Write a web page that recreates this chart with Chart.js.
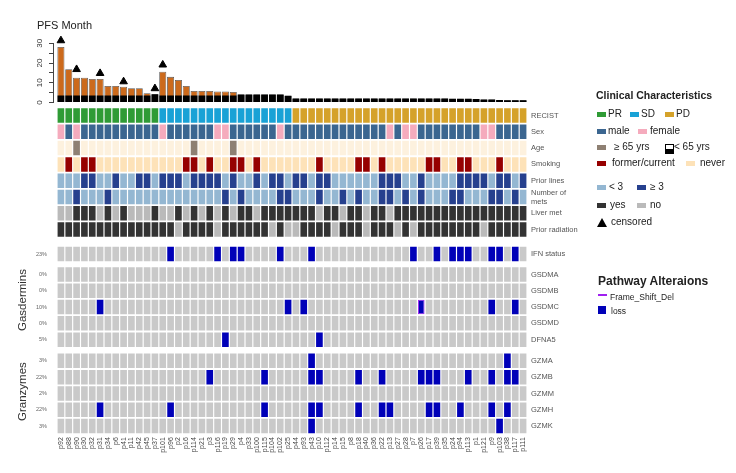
<!DOCTYPE html>
<html>
<head>
<meta charset="utf-8">
<script src="https://cdn.jsdelivr.net/npm/chart.js@4.4.0/dist/chart.umd.min.js"></script>
<style>
body{margin:0;width:736px;height:473px;position:relative;background:#fff;overflow:hidden;font-family:"Liberation Sans",Arial,sans-serif;color:#222}
canvas{position:absolute;left:0;top:0}
.t{position:absolute;white-space:nowrap;line-height:1}
.sw{position:absolute;width:9px;height:5px}
.rot{position:absolute;transform:rotate(-90deg);transform-origin:center;white-space:nowrap;font-size:11.5px;color:#333}
</style>
</head>
<body>
<canvas id="pfs" width="736" height="110"></canvas>
<canvas id="grid" width="736" height="473"></canvas>

<div class="t" style="left:37px;top:20px;font-size:11px">PFS Month</div>
<div class="rot" style="left:-9px;top:294px;width:62px;text-align:center">Gasdermins</div>
<div class="rot" style="left:-7px;top:386px;width:58px;text-align:center">Granzymes</div>

<div id="legend"></div>

<script>
// patients, left to right
const patients = ["p92","p88","p90","p30","p32","p31","p34","p6","p41","p11","p42","p45","p37",
  "p101","p96","p2","p16","p114","p21","p3","p116","p19","p29","p4","p33","p100","p115","p104","p102","p25",
  "p44","p93","p43","p10","p112","p14","p15","p8","p18","p40","p36","p22","p13","p27","p28","p7","p26",
  "p17","p39","p35","p24","p94","p113","p1","p121","p9","p103","p38","p117","p111"];

// PFS months (bar height) and the black base part
const pfsMonths = [28.1,16.9,12.6,12.6,11.9,11.9,8.4,8.4,8.0,7.2,7.2,4.7,4.2,
  15.6,13.0,11.4,8.4,5.8,5.8,5.8,5.6,5.6,5.3,4.1,4.1,4.1,4.1,4.1,4.0,3.4,
  2.0,2.0,2.0,2.0,2.0,2.0,2.0,2.0,2.0,2.0,2.0,2.0,2.0,2.0,2.0,2.0,2.0,2.0,2.0,2.0,
  1.9,1.9,1.9,1.8,1.5,1.5,1.3,1.2,1.1,1.1];
const pfsBase = [3.5,3.5,3.5,3.5,3.5,3.5,3.5,3.5,3.5,3.5,3.5,3.5,4.2,
  3.5,3.5,3.5,3.5,3.5,3.5,3.5,3.5,3.5,3.5,4.1,4.1,4.1,4.1,4.1,4.0,3.4,
  2.0,2.0,2.0,2.0,2.0,2.0,2.0,2.0,2.0,2.0,2.0,2.0,2.0,2.0,2.0,2.0,2.0,2.0,2.0,2.0,
  1.9,1.9,1.9,1.8,1.5,1.5,1.3,1.2,1.1,1.1];
const censored = ["p92","p90","p31","p41","p37","p101"];
const censorMark = [31.4,16.8,14.8,10.6,7.1,19.1];
const pfsTicks = [0,10,20,30];

// clinical rows
const recist = ["PR","PR","PR","PR","PR","PR","PR","PR","PR","PR","PR","PR","PR",
  "SD","SD","SD","SD","SD","SD","SD","SD","SD","SD","SD","SD","SD","SD","SD","SD","SD",
  "PD","PD","PD","PD","PD","PD","PD","PD","PD","PD","PD","PD","PD","PD","PD","PD","PD","PD","PD","PD",
  "PD","PD","PD","PD","PD","PD","PD","PD","PD","PD"];
const female = ["p92","p90","p101","p116","p19","p102","p13","p28","p7","p121","p9"];
const age65 = ["p90","p114","p29"];
const smoker = ["p88","p30","p32","p16","p114","p3","p29","p4","p100","p10","p18","p40","p22","p17","p39","p94","p113","p103"];
const priorLines3 = ["p30","p32","p6","p42","p45","p101","p96","p2","p114","p21","p3","p116","p29","p100","p104","p102",
  "p44","p93","p10","p112","p22","p13","p27","p26","p94","p113","p1","p121","p103","p38","p111"];
const mets3 = ["p90","p34","p19","p4","p102","p25","p10","p15","p18","p22","p13","p28","p26","p24","p94","p9","p103","p117"];
const liverMet = ["p90","p30","p32","p34","p41","p37","p2","p114","p3","p19","p4","p33","p115","p104","p102","p25",
  "p44","p93","p43","p112","p14","p8","p18","p36","p22","p27","p28","p7","p26","p17","p39","p35","p24","p94","p113","p1","p121","p9","p103","p38","p117","p111"];
const noRadiation = ["p2","p116","p25","p44","p14","p40","p104","p27","p7","p121"];

// alterations (loss)
const ifnLoss = ["p96","p116","p29","p4","p102","p43","p7","p39","p24","p94","p113","p9","p103","p117"];
const gsdmaLoss = [];
const gsdmbLoss = [];
const gsdmcLoss = ["p31","p25","p93","p26","p9","p117"];
const gsdmcFrameShift = ["p26"];
const gsdmdLoss = [];
const dfna5Loss = ["p19","p10"];
const gzmaLoss = ["p43","p38"];
const gzmbLoss = ["p3","p115","p43","p10","p18","p22","p26","p17","p39","p113","p9","p38","p117"];
const gzmmLoss = [];
const gzmhLoss = ["p31","p96","p115","p43","p10","p18","p22","p13","p17","p39","p94","p9","p38"];
const gzmkLoss = ["p43","p103"];

const rowNames = ["RECIST","Sex","Age","Smoking","Prior lines",["Number of","mets"],"Liver met","Prior radiation",
  "IFN status","GSDMA","GSDMB","GSDMC","GSDMD","DFNA5","GZMA","GZMB","GZMM","GZMH","GZMK"];
const rowPct = ["","","","","","","","","23%","0%","0%","10%","0%","5%","3%","22%","2%","22%","3%"];

// layout (row centres in row units) and colours
const rowPos = [0,1,2,3,4,5,6,7,8.5,9.75,10.75,11.75,12.75,13.75,15.05,16.05,17.05,18.05,19.05];
const C = {PR:"#2f9b35",SD:"#19a2d6",PD:"#d5a22a",male:"#3b6690",female:"#f5abbd",
  old:"#8e8073",young:"#fdf1de",smoke:"#960000",never:"#fde2b8",lo:"#94b7d2",hi:"#26408e",
  yes:"#333333",no:"#bababa",grey:"#c9c9c9",loss:"#0000b8",fsd:"#a020f0",bar:"#cc6a1c"};

const has = (list) => patients.map(p => list.includes(p));
const rowColors = [
  recist.map(r => C[r]),
  has(female).map(f => f ? C.female : C.male),
  has(age65).map(f => f ? C.old : C.young),
  has(smoker).map(f => f ? C.smoke : C.never),
  has(priorLines3).map(f => f ? C.hi : C.lo),
  has(mets3).map(f => f ? C.hi : C.lo),
  has(liverMet).map(f => f ? C.yes : C.no),
  has(noRadiation).map(f => f ? C.no : C.yes),
];
[ifnLoss,gsdmaLoss,gsdmbLoss,gsdmcLoss,gsdmdLoss,dfna5Loss,gzmaLoss,gzmbLoss,gzmmLoss,gzmhLoss,gzmkLoss].forEach(l => {
  rowColors.push(has(l).map(f => f ? C.loss : C.grey));
});

const datasets = rowColors.map((cols, r) => ({
  data: patients.map(() => [rowPos[r] - 0.445, rowPos[r] + 0.445]),
  backgroundColor: cols,
  borderColor: r === 11 ? has(gsdmcFrameShift).map(f => f ? C.fsd : "rgba(0,0,0,0)") : "rgba(0,0,0,0)",
  borderWidth: r === 11 ? has(gsdmcFrameShift).map(f => f ? 1 : 0) : 0,
  borderSkipped: false,
  grouped: false,
  barPercentage: 0.85,
  categoryPercentage: 1
}));

const yRange = {min: -0.5, max: 19.55};
function rowTicks(scale) { scale.ticks = rowPos.map(v => ({value: v})); }

new Chart(document.getElementById("grid"), {
  type: "bar",
  data: {labels: patients, datasets: datasets},
  options: {
    responsive: false, animation: false,
    layout: {padding: {top: 107.35}},
    plugins: {legend: {display: false}, tooltip: {enabled: false}},
    scales: {
      x: {
        grid: {display: false, drawTicks: false}, border: {display: false},
        ticks: {autoSkip: false, minRotation: 90, maxRotation: 90, padding: 3,
          font: {size: 7, family: "Liberation Sans"}, color: "#444"},
        afterFit: s => { s.height = 38.8; }
      },
      y: {
        position: "left", reverse: true, min: yRange.min, max: yRange.max,
        grid: {display: false, drawTicks: false}, border: {display: false},
        afterBuildTicks: rowTicks,
        ticks: {autoSkip: false, padding: 10, font: {size: 5.5, family: "Liberation Sans"}, color: "#666",
          callback: (v, i) => rowPct[i]},
        afterFit: s => { s.width = 57; }
      },
      y2: {
        position: "right", reverse: true, min: yRange.min, max: yRange.max,
        grid: {display: false, drawTicks: false}, border: {display: false},
        afterBuildTicks: rowTicks,
        ticks: {autoSkip: false, padding: 4, font: {size: 7.5, family: "Liberation Sans"}, color: "#555",
          callback: (v, i) => rowNames[i]},
        afterFit: s => { s.width = 209; }
      }
    }
  }
});

// PFS bar chart on top
const idx = (p) => patients.indexOf(p);
const pfsAxisLabels = {
  id: "pfsAxisLabels",
  afterDraw(chart) {
    const s = chart.scales.y, ctx = chart.ctx;
    ctx.save();
    ctx.font = "8px 'Liberation Sans'";
    ctx.fillStyle = "#333";
    ctx.textAlign = "center";
    ctx.textBaseline = "middle";
    pfsTicks.forEach(v => {
      ctx.save();
      ctx.translate(s.right - 13, s.getPixelForValue(v));
      ctx.rotate(-Math.PI / 2);
      ctx.fillText(String(v), 0, 0);
      ctx.restore();
    });
    ctx.restore();
  }
};

new Chart(document.getElementById("pfs"), {
  type: "bar",
  data: {
    datasets: [
      {data: pfsMonths.map((v, i) => ({x: i, y: v})), backgroundColor: C.bar, borderColor: "#555",
        borderWidth: 0.8, borderSkipped: false, grouped: false, barPercentage: 0.9, categoryPercentage: 1, order: 3},
      {data: pfsBase.map((v, i) => ({x: i, y: v})), backgroundColor: "#000", grouped: false,
        barPercentage: 0.86, categoryPercentage: 1, order: 2},
      {type: "scatter", data: censored.map((p, i) => ({x: idx(p), y: censorMark[i]})), pointStyle: "triangle",
        radius: 4.4, backgroundColor: "#000", borderColor: "#000", clip: false, order: 1}
    ]
  },
  options: {
    responsive: false, animation: false,
    layout: {padding: {top: 43.3, bottom: 7.5, right: 209}},
    plugins: {legend: {display: false}, tooltip: {enabled: false}},
    scales: {
      x: {type: "linear", display: false, offset: false, min: -1.011, max: 59.5},
      y: {
        min: 0, max: 30,
        ticks: {stepSize: 5, display: false},
        grid: {drawOnChartArea: false, tickLength: 4, color: "#444"},
        border: {color: "#444"},
        afterFit: s => { s.width = 53; }
      }
    }
  },
  plugins: [pfsAxisLabels]
});

// legend
const legendItems = [
  {t: "Clinical Characteristics", x: 596, y: 90, bold: true, size: 10.5},
  {sw: C.PR, x: 597, y: 112}, {t: "PR", x: 608, y: 109},
  {sw: C.SD, x: 630, y: 112}, {t: "SD", x: 641, y: 109},
  {sw: C.PD, x: 665, y: 112}, {t: "PD", x: 676, y: 109},
  {sw: C.male, x: 597, y: 129}, {t: "male", x: 608, y: 126},
  {sw: C.female, x: 638, y: 129}, {t: "female", x: 650, y: 126},
  {sw: C.old, x: 597, y: 145}, {t: "\u2265 65 yrs", x: 614, y: 142},
  {t: "< 65 yrs", x: 674, y: 142},
  {sw: C.smoke, x: 597, y: 161}, {t: "former/current", x: 612, y: 158},
  {sw: C.never, x: 686, y: 161}, {t: "never", x: 700, y: 158},
  {sw: C.lo, x: 597, y: 185}, {t: "< 3", x: 609, y: 182},
  {sw: C.hi, x: 637, y: 185}, {t: "\u2265 3", x: 650, y: 182},
  {sw: C.yes, x: 597, y: 203}, {t: "yes", x: 610, y: 200},
  {sw: C.no, x: 637, y: 203}, {t: "no", x: 650, y: 200},
  {t: "censored", x: 611, y: 217},
  {t: "Pathway Alteraions", x: 598, y: 275, bold: true, size: 12},
  {t: "Frame_Shift_Del", x: 610, y: 293, size: 8.5},
  {t: "loss", x: 611, y: 307, size: 8.5}
];
const lg = document.getElementById("legend");
legendItems.forEach(it => {
  const d = document.createElement("div");
  if (it.sw) {
    d.className = "sw";
    d.style.background = it.sw;
  } else {
    d.className = "t";
    d.textContent = it.t;
    d.style.fontSize = (it.size || 10) + "px";
    if (it.bold) d.style.fontWeight = "bold";
  }
  d.style.left = it.x + "px";
  d.style.top = it.y + "px";
  lg.appendChild(d);
});
lg.insertAdjacentHTML("beforeend",
  '<div style="position:absolute;left:665px;top:144px;width:7px;height:8px;border:1px solid #000;background:linear-gradient(#fff 45%,#000 45%)"></div>' +
  '<div style="position:absolute;left:597px;top:218px;width:0;height:0;border-left:5px solid transparent;border-right:5px solid transparent;border-bottom:9px solid #000"></div>' +
  '<div style="position:absolute;left:598px;top:294px;width:9px;height:2px;background:' + C.fsd + '"></div>' +
  '<div style="position:absolute;left:598px;top:306px;width:8px;height:8px;background:' + C.loss + '"></div>');
</script>
</body>
</html>
